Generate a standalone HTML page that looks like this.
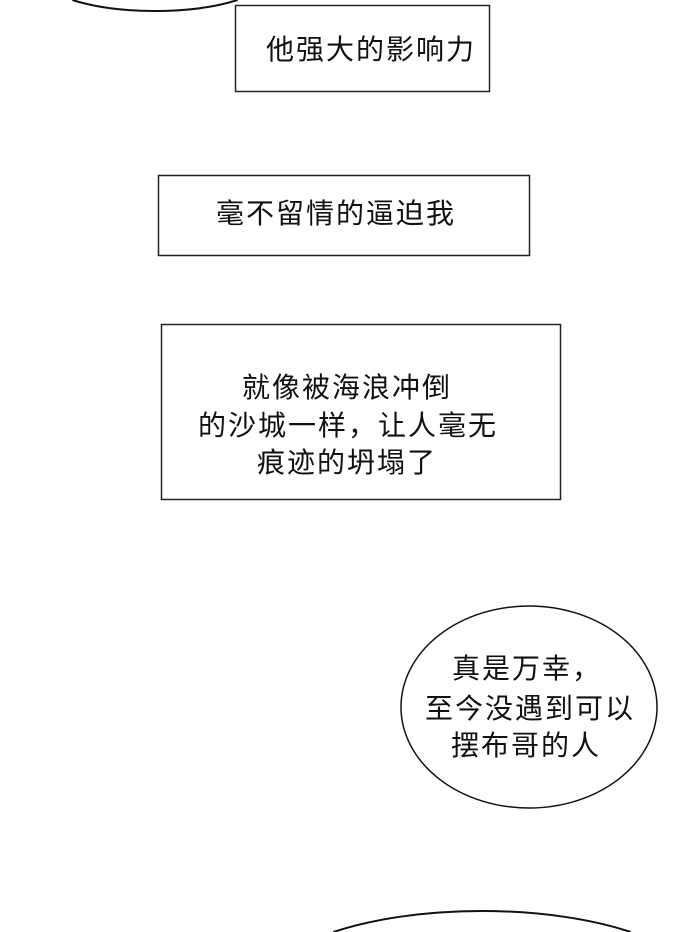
<!DOCTYPE html>
<html><head><meta charset="utf-8"><style>
html,body{margin:0;padding:0;background:#fff;width:700px;height:932px;overflow:hidden;}
svg{display:block}
text{font-family:"Liberation Sans","Noto Sans CJK SC",sans-serif;font-size:28px;fill:#111;text-anchor:middle;letter-spacing:2px}
</style></head><body>
<svg width="700" height="932" viewBox="0 0 700 932">
<path d="M72.4,0 A120,40 0 0,0 237.6,0" fill="none" stroke="#111" stroke-width="2"/>
<rect x="235.5" y="5.5" width="254" height="86" fill="#fff" stroke="#222" stroke-width="1.5"/>
<text x="371" y="59">他强大的影响力</text>
<rect x="158.5" y="175.5" width="371" height="80" fill="#fff" stroke="#222" stroke-width="1.5"/>
<text x="336" y="223">毫不留情的逼迫我</text>
<rect x="161.5" y="324.5" width="399" height="175" fill="#fff" stroke="#222" stroke-width="1.5"/>
<text x="347" y="397">就像被海浪冲倒</text>
<text x="348" y="435">的沙城一样，让人毫无</text>
<text x="347" y="472">痕迹的坍塌了</text>
<ellipse cx="529" cy="707" rx="128" ry="101" fill="#fff" stroke="#111" stroke-width="1.5"/>
<text x="527" y="678">真是万幸，</text>
<text x="530" y="718">至今没遇到可以</text>
<text x="526" y="755">摆布哥的人</text>
<path d="M333.4,932 A220,80 0 0,1 630.6,932" fill="none" stroke="#111" stroke-width="2"/>
</svg>
</body></html>
